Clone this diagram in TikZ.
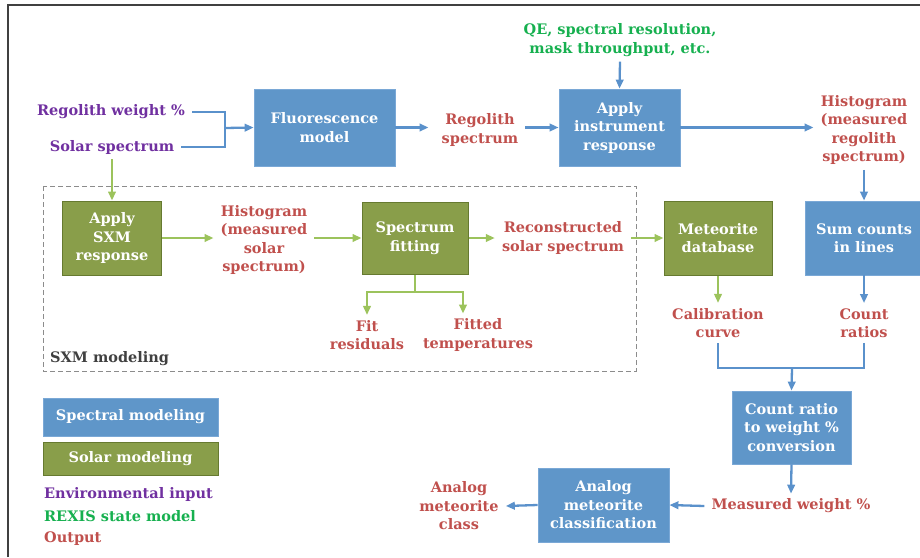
\documentclass[tikz,border=0pt]{standalone}
\usepackage{tikz}
\usepackage{fontspec}
\setmainfont{DejaVu Serif}
\usetikzlibrary{arrows,arrows.meta,positioning}
\definecolor{specblue}{HTML}{5F96C9}
\definecolor{specblueline}{HTML}{7AA8D6}
\definecolor{arrowblue}{HTML}{5A91CB}
\definecolor{solgreen}{HTML}{899E4A}
\definecolor{solgreenline}{HTML}{667A30}
\definecolor{lightgreen}{HTML}{9CC35C}
\definecolor{outred}{HTML}{C0504D}
\definecolor{envpurple}{HTML}{7030A0}
\definecolor{stategreen}{HTML}{16B04F}
\definecolor{sxmgray}{HTML}{8C8C8C}
\definecolor{labelgray}{HTML}{404040}

\begin{document}
\begin{tikzpicture}[x=1pt,y=-1pt,>={Triangle[length=9pt,width=7.5pt]},
  font=\bfseries\fontsize{14.5}{18.5}\selectfont]
		\useasboundingbox (0,0) rectangle (920,557);
		\tikzstyle{BlueBox}=[fill=specblue,draw=specblueline,line width=0.8pt,text=white,align=center,inner sep=0pt]
		\tikzstyle{GreenBox}=[fill=solgreen,draw=solgreenline,line width=1pt,text=white,align=center,inner sep=0pt]
		\tikzstyle{InText}=[text=envpurple,align=center,inner xsep=7pt,inner ysep=5pt]
		\tikzstyle{StateText}=[text=stategreen,align=center,inner xsep=7pt,inner ysep=5pt]
		\tikzstyle{OutText}=[text=outred,align=center,inner xsep=7pt,inner ysep=5pt]
		\tikzstyle{BlueEdge}=[draw=arrowblue,line width=2.3pt]
		\tikzstyle{GreenEdge}=[draw=lightgreen,line width=2.2pt]
		% frame
		\draw[labelgray,line width=1.3pt] (8,557) -- (8,5) -- (920,5);
		% spectral chain
		\node[InText] (regw) at (111,112) {Regolith weight \%};
		\node[InText] (solsp) at (112,147) {Solar spectrum};
		\node[BlueBox,minimum width=141pt,minimum height=77pt] (fluor) at (324.5,127.5) {Fluorescence\\model};
		\node[OutText] (regsp) at (480,130) {Regolith\\spectrum};
		\node[BlueBox,minimum width=121pt,minimum height=77pt] (instr) at (619.5,127.5) {Apply\\instrument\\response};
		\node[StateText] (qe) at (620,40) {QE, spectral resolution,\\mask throughput, etc.};
		\node[OutText] (histreg) at (864,130) {Histogram\\(measured\\regolith\\spectrum)};
		\node[BlueBox,minimum width=118pt,minimum height=74pt] (sumc) at (864,238) {Sum counts\\in lines};
		\node[GreenBox,minimum width=108pt,minimum height=74pt] (metdb) at (718,238) {Meteorite\\database};
		\node[OutText] (calib) at (718,323) {Calibration\\curve};
		\node[OutText] (cratio) at (864,323) {Count\\ratios};
		\node[BlueBox,minimum width=119pt,minimum height=73pt] (conv) at (791.5,427.5) {Count ratio\\to weight \%\\conversion};
		\node[OutText] (measw) at (791,506) {Measured weight \%};
		\node[BlueBox,minimum width=131pt,minimum height=74pt] (classif) at (603.5,505) {Analog\\meteorite\\classification};
		\node[OutText] (aclass) at (459,506) {Analog\\meteorite\\class};
		% SXM modeling
		\draw[sxmgray,dashed,line width=1pt,dash pattern=on 5pt off 3pt] (43,186) rectangle (636,371);
		\node[GreenBox,minimum width=99pt,minimum height=74pt] (sxm) at (112,238) {Apply\\SXM\\response};
		\node[OutText] (histsol) at (264,240) {Histogram\\(measured\\solar\\spectrum)};
		\node[GreenBox,minimum width=106pt,minimum height=72pt] (fit) at (415,238) {Spectrum\\fitting};
		\node[OutText] (recon) at (563,238) {Reconstructed\\solar spectrum};
		\node[OutText] (fitres) at (367,335) {Fit\\residuals};
		\node[OutText] (fittemp) at (478,335) {Fitted\\temperatures};
		\node[text=labelgray,anchor=base west,inner sep=0pt] (sxmlbl) at (50,362) {SXM modeling};
		% legend
		\node[BlueBox,minimum width=175pt,minimum height=38pt] (legspec) at (130.5,417) {Spectral modeling};
		\node[GreenBox,minimum width=175pt,minimum height=33pt] (legsol) at (130.5,458.5) {Solar modeling};
		\node[text=envpurple,anchor=west,inner sep=0pt] (legenv) at (44,494) {Environmental input};
		\node[text=stategreen,anchor=west,inner sep=0pt] (legstate) at (44,516) {REXIS state model};
		\node[text=outred,anchor=west,inner sep=0pt] (legout) at (44,539) {Output};
		% connectors
		\coordinate (join) at (225,128);
		\draw[BlueEdge] (regw.east) -| (join);
		\draw[BlueEdge] (solsp.east) -| (join);
		\draw[BlueEdge,->] (join) -- (fluor.west);
		\draw[BlueEdge,->,shorten >=6pt] (fluor.east) -- (fluor.east -| regsp.west);
		\draw[BlueEdge,->] (regsp.east |- instr.west) -- (instr.west);
		\draw[BlueEdge,->] (qe.south) -- (instr.north);
		\draw[BlueEdge,->] (instr.east) -- (instr.east -| histreg.west);
		\draw[BlueEdge,->] (histreg.south) -- (sumc.north);
		\draw[BlueEdge,->] (sumc.south) -- (cratio.north);
		\draw[GreenEdge,->] (metdb.south) -- (calib.north);
		\coordinate (merge) at (792,368);
		\draw[BlueEdge] (calib.south) |- (merge);
		\draw[BlueEdge] (cratio.south) |- (merge);
		\draw[BlueEdge,->] (merge) -- (conv.north);
		\draw[BlueEdge,->] (conv.south) -- (measw.north);
		\draw[BlueEdge,->] (measw.west) -- (classif.east);
		\draw[BlueEdge,->] (classif.west) -- (aclass.east);
		\draw[GreenEdge,->] (solsp.south) -- (sxm.north);
		\draw[GreenEdge,->] (sxm.east) -- (sxm.east -| histsol.west);
		\draw[GreenEdge,->] (histsol.east |- fit.west) -- (fit.west);
		\draw[GreenEdge,->] (fit.east) -- (fit.east -| recon.west);
		\draw[GreenEdge,->] (recon.east |- metdb.west) -- (metdb.west);
		\coordinate (fitsplit) at (415,292);
		\draw[GreenEdge] (fit.south) -- (fitsplit);
		\draw[GreenEdge,->] (fitsplit) -| (fitres.north);
		\draw[GreenEdge,->] (fitsplit) -| ([xshift=-15pt]fittemp.north);
\end{tikzpicture}
\end{document}
